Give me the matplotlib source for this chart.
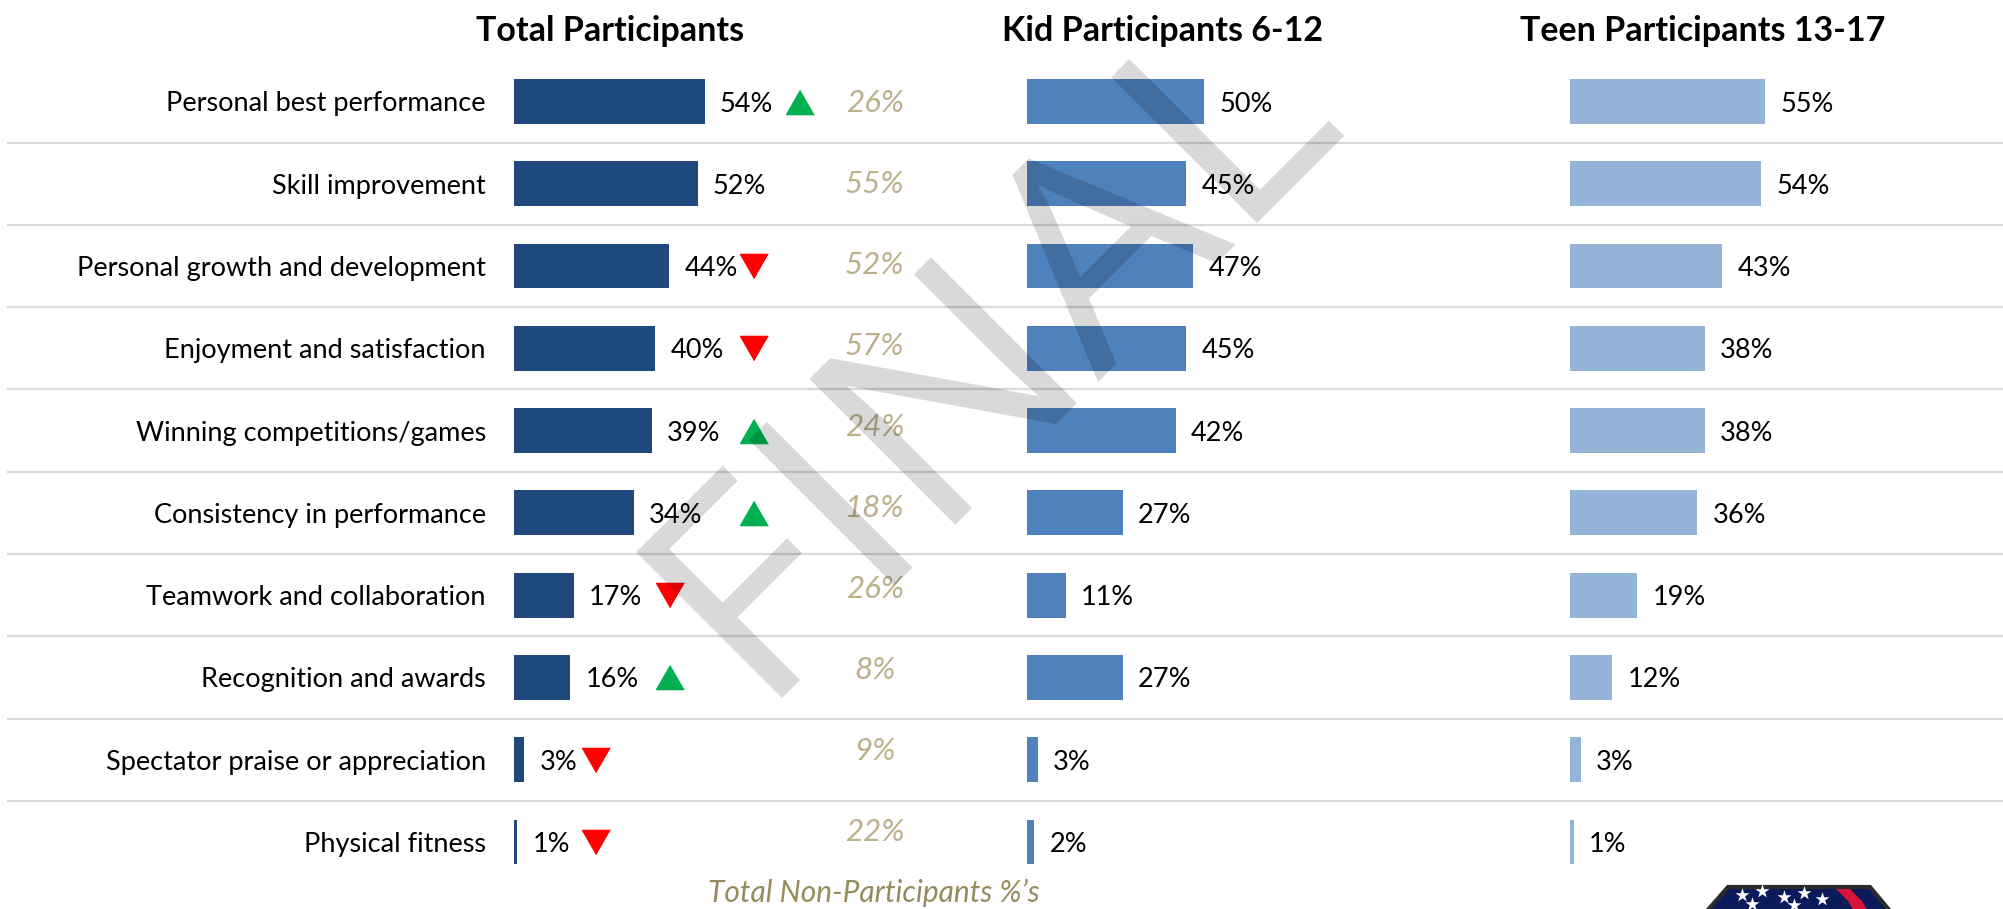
import numpy as np
import matplotlib
matplotlib.use("Agg")
import matplotlib.pyplot as plt
from matplotlib.textpath import TextPath
from matplotlib.font_manager import FontProperties
from matplotlib.patches import PathPatch, Polygon
from matplotlib.transforms import Affine2D, IdentityTransform

# ---- data ----
categories = ["Personal best performance", "Skill improvement", "Personal growth and development",
              "Enjoyment and satisfaction", "Winning competitions/games", "Consistency in performance",
              "Teamwork and collaboration", "Recognition and awards", "Spectator praise or appreciation",
              "Physical fitness"]
total_pct = [54, 52, 44, 40, 39, 34, 17, 16, 3, 1]
kid_pct = [50, 45, 47, 45, 42, 27, 11, 27, 3, 2]
teen_pct = [55, 54, 43, 38, 38, 36, 19, 12, 3, 1]
non_part_pct = [26, 55, 52, 57, 24, 18, 26, 8, 9, 22]
# change vs. last wave, and where the arrow sits (in % units of the total column)
trend = ["up", None, "down", "down", "up", "up", "down", "up", "down", "down"]
trend_x = [80.9, None, 68, 68, 68, 68, 44.2, 44.2, 23.3, 23.3]

group_titles = ["Total Participants", "Kid Participants 6-12", "Teen Participants 13-17"]

# ---- layout (pixels of the 2003x909 slide) ----
W, H = 2003, 909
ROW0, PITCH = 101.5, 82.27
PX_PER_PCT = 3.54

plt.rcParams['font.family'] = ['Lato', 'DejaVu Sans']

fig = plt.figure(figsize=(W / 100, H / 100), dpi=100)
fig.patch.set_facecolor('white')


def row_axes(x0_px, width_px, row0=ROW0, pitch=PITCH):
    ax = fig.add_axes([x0_px / W, 0, width_px / W, 1])
    ax.set_xlim(0, width_px / PX_PER_PCT)
    ax.set_ylim((H - row0) / pitch, -row0 / pitch)
    ax.axis('off')
    return ax


rows = np.arange(len(categories))

# background: separators and category names
ax_bg = fig.add_axes([0, 0, 1, 1])
ax_bg.set_xlim(0, 1)
ax_bg.set_ylim((H - ROW0) / PITCH, -ROW0 / PITCH)
ax_bg.axis('off')
ax_bg.hlines(rows[1:] - 0.5, 7 / W, 1, color='#D9D9D9', lw=1.6)
for i, cat in enumerate(categories):
    ax_bg.text(486 / W, i, cat, ha='right', va='center_baseline', fontsize=19.5, color='black')

group_x0 = [513.5, 1027, 1570]
group_colors = ['#1F497D', '#4F81BD', '#95B3D7']
group_vals = [total_pct, kid_pct, teen_pct]
title_x = [610, 1163, 1703]

axes = []
for x0, vals, col, title, tx in zip(group_x0, group_vals, group_colors, group_titles, title_x):
    ax = row_axes(x0, 420)
    ax.barh(rows, vals, height=0.545, color=col)
    for i, v in enumerate(vals):
        ax.annotate(f"{v}%", (v, i), xytext=(11, 0), textcoords='offset points',
                    ha='left', va='center_baseline', fontsize=19.5, color='black',
                    annotation_clip=False)
    fig.text(tx / W, 1 - 28 / H, title, ha='center', va='center_baseline', fontsize=24.5,
             fontweight='bold')
    axes.append(ax)

# trend arrows next to the total column
ax_tot = axes[0]
tri = [(0, 0.87), (-1, -0.87), (1, -0.87)]
tri_down = [(0, -0.87), (-1, 0.87), (1, 0.87)]
for i, (d, x) in enumerate(zip(trend, trend_x)):
    if d == "up":
        ax_tot.plot(x, i, marker=tri, ms=20, color='#00B050', clip_on=False)
    elif d == "down":
        ax_tot.plot(x, i, marker=tri_down, ms=20, color='#FF0000', clip_on=False)

# non-participant values (their own, slightly tighter grid)
ax_np = row_axes(513.5, 420, row0=101, pitch=80.9)
for i, v in enumerate(non_part_pct):
    ax_np.text(102, i, f"{v}%", ha='center', va='center_baseline', fontsize=22.5, style='italic',
               color='#BBB08A')
fig.text(873.6 / W, 1 - 893 / H, "Total Non-Participants %\u2019s", ha='center', va='center',
         fontsize=21.5, style='italic', color='#968B5C')

# logo peeking in at the bottom right
ax_logo = fig.add_axes([1700 / W, 0, 200 / W, 26 / H])
ax_logo.set_xlim(0, 200)
ax_logo.set_ylim(0, 26)
ax_logo.axis('off')
ax_logo.add_patch(Polygon([(7, -2), (28, 22), (170, 22), (190, -2)], closed=True,
                          facecolor='#0B1A5A', edgecolor='#2B2B2B', lw=3))
ax_logo.add_patch(Polygon([(136, 20), (150, 20), (162, 8), (168, -2), (154, -2), (148, 8)],
                          closed=True, facecolor='#D7143A', edgecolor='none'))
ax_logo.scatter([42, 62, 84, 104, 122, 52, 94], [14, 18, 12, 16, 10, 5, 4], marker='*',
                s=110, color='white', lw=0)

# "FINAL" watermark drawn over everything
fp = FontProperties(family='Open Sans', weight='normal')
tp = TextPath((0, 0), "FINAL", size=100, prop=fp)
ext = tp.get_extents()
wm = Affine2D().translate(-ext.x0, -ext.y0).scale(795 / ext.width, 207 / ext.height) \
    .rotate_deg(45).translate(782, H - 698)
fig.add_artist(PathPatch(wm.transform_path(tp), transform=IdentityTransform(),
                         facecolor='black', alpha=0.15, edgecolor='none', zorder=10))

fig.savefig('out.png', dpi=100)
